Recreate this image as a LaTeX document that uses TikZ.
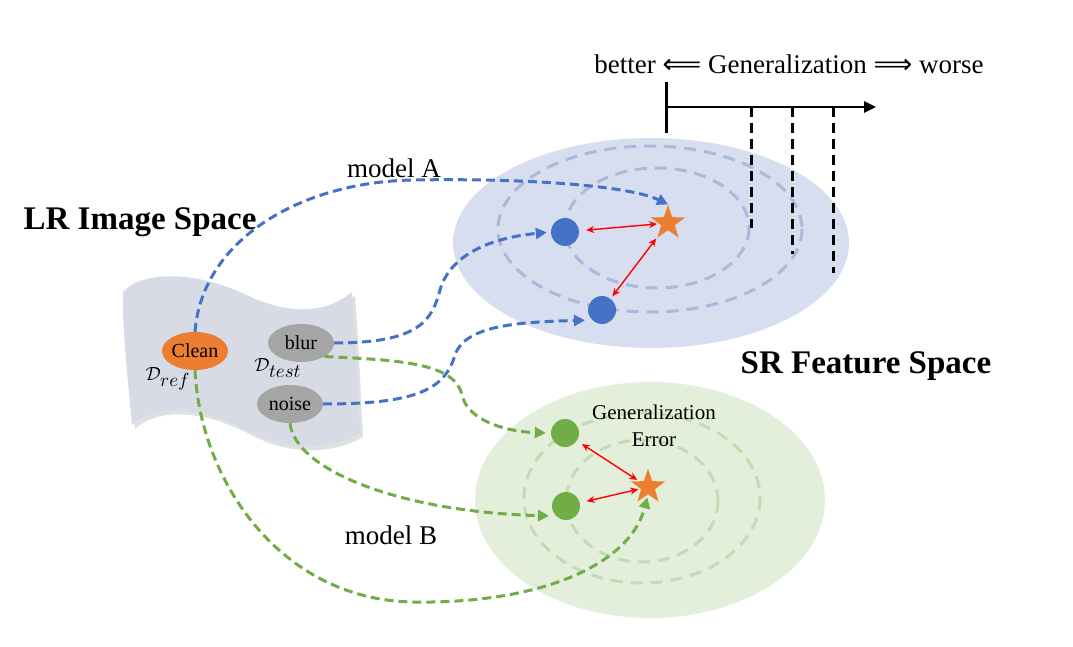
\documentclass[tikz,border=0pt]{standalone}
\usepackage{fontspec}
\setmainfont{Liberation Serif}
\newfontfamily\arrowfont{DejaVu Sans}
\usetikzlibrary{shapes.geometric,arrows.meta}
\definecolor{cblue}{HTML}{4472C4}
\definecolor{cgreen}{HTML}{70AD47}
\definecolor{corange}{HTML}{ED7D31}
\definecolor{cgray}{HTML}{A5A5A5}
\definecolor{bluebg}{HTML}{D6DEF0}
\definecolor{greenbg}{HTML}{E3EFDA}
\definecolor{bluering}{HTML}{AAB9DC}
\definecolor{greenring}{HTML}{C4DBB3}
\definecolor{sheet}{HTML}{D7DBE5}
\newcommand{\bigmath}[2]{\scalebox{#1}{\normalsize$#2$}}
\begin{document}
\begin{tikzpicture}[x=1pt,y=-1pt,
  blueconn/.style={draw=cblue, line width=3pt, dash pattern=on 9pt off 5pt, -{Triangle[length=11pt,width=11pt]}},
  greenconn/.style={draw=cgreen, line width=3pt, dash pattern=on 9pt off 5pt, -{Triangle[length=11pt,width=11pt]}},
  errarrow/.style={draw=red, line width=1.4pt, {Stealth[length=8pt,width=7pt]}-{Stealth[length=8pt,width=7pt]}},
  dotnode/.style={circle, minimum size=28pt, inner sep=0pt},
  starnode/.style={star, star points=5, star point ratio=2.5, fill=corange, minimum size=36pt, inner sep=0pt},
  lrnode/.style={ellipse, minimum width=66pt, minimum height=38pt, inner sep=0pt, font=\fontsize{20}{24}\selectfont},
  ring/.style={line width=3pt, dash pattern=on 12pt off 8pt},
  axisdash/.style={line width=3pt, dash pattern=on 10pt off 6pt},
  bigtitle/.style={font=\fontsize{33}{38}\selectfont\bfseries},
  lbl/.style={font=\fontsize{27}{32}\selectfont}
]
\useasboundingbox (0,0) rectangle (1073,647);

% feature space backgrounds
\fill[bluebg] (651,243) ellipse [x radius=198, y radius=105];
\fill[greenbg] (650,500) ellipse [x radius=175, y radius=118];
\draw[ring, bluering] (657,228) ellipse [x radius=92, y radius=60];
\draw[ring, bluering] (650,229) ellipse [x radius=152, y radius=83];
\draw[ring, greenring] (642,501) ellipse [x radius=76, y radius=61];
\draw[ring, greenring] (642,498) ellipse [x radius=118, y radius=85];

% axis
\coordinate (ax0) at (666,107);
\coordinate (ax1) at (876,107);
\coordinate (tickTop) at (666,82);
\coordinate (tickBot) at (666,133);
\draw[line width=3pt] (tickTop) -- (tickBot);
\draw[line width=2.5pt, -{Triangle[length=12pt,width=11pt]}] (ax0) -- (ax1);
\coordinate (d1a) at (751,107); \coordinate (d1b) at (751,228);
\coordinate (d2a) at (792,107); \coordinate (d2b) at (792,254);
\coordinate (d3a) at (833,107); \coordinate (d3b) at (833,273);
\draw[axisdash] (d1a) -- (d1b);
\draw[axisdash] (d2a) -- (d2b);
\draw[axisdash] (d3a) -- (d3b);
\node[lbl] (gen) at (789,64) {better {\arrowfont ⟸} Generalization {\arrowfont ⟹} worse};

% LR sheet
\fill[black, opacity=0.12] ([shift={(3,4)}]123,292) .. controls ([shift={(3,4)}]140,272) and ([shift={(3,4)}]190,270) .. ([shift={(3,4)}]240,292)
  .. controls ([shift={(3,4)}]280,312) and ([shift={(3,4)}]320,318) .. ([shift={(3,4)}]352,292)
  .. controls ([shift={(3,4)}]356,340) and ([shift={(3,4)}]358,400) .. ([shift={(3,4)}]360,433)
  .. controls ([shift={(3,4)}]330,450) and ([shift={(3,4)}]290,452) .. ([shift={(3,4)}]250,432)
  .. controls ([shift={(3,4)}]210,410) and ([shift={(3,4)}]160,400) .. ([shift={(3,4)}]132,425)
  .. controls ([shift={(3,4)}]128,380) and ([shift={(3,4)}]122,330) .. cycle;
\fill[sheet] (123,292) .. controls (140,272) and (190,270) .. (240,292)
  .. controls (280,312) and (320,318) .. (352,292)
  .. controls (356,340) and (358,400) .. (360,433)
  .. controls (330,450) and (290,452) .. (250,432)
  .. controls (210,410) and (160,400) .. (132,425)
  .. controls (128,380) and (122,330) .. cycle;

% LR nodes
\node[lrnode, fill=corange] (clean) at (195,351) {Clean};
\node[lrnode, fill=cgray] (blur) at (301,343) {blur};
\node[lrnode, fill=cgray] (noise) at (290,404) {noise};
\node (dref) at (168,379) {\bigmath{1.9}{\mathcal{D}_{\textstyle ref}}};
\node (dtest) at (278,368) {\bigmath{1.9}{\mathcal{D}_{\textstyle test}}};

% titles
\node[bigtitle] (lrtitle) at (140,222) {LR Image Space};
\node[bigtitle] (srtitle) at (866,366) {SR Feature Space};
\node[lbl] (modelA) at (394,168) {model A};
\node[lbl] (modelB) at (391,535) {model B};
\node[font=\fontsize{21}{27}\selectfont, align=center] (generr) at (654,426) {Generalization\\Error};

% feature points
\node[dotnode, fill=cblue] (dotA1) at (565,232) {};
\node[dotnode, fill=cblue] (dotA2) at (602,310) {};
\node[starnode] (starA) at (668,223) {};
\node[dotnode, fill=cgreen] (dotB1) at (565,433) {};
\node[dotnode, fill=cgreen] (dotB2) at (566,506) {};
\node[starnode] (starB) at (648,487) {};

% error arrows
\draw[errarrow, shorten <=7pt, shorten >=2pt] (dotA1) -- (starA);
\draw[errarrow, shorten <=3pt, shorten >=2pt] (dotA2) -- (starA);
\draw[errarrow, shorten <=6pt, shorten >=2pt] (dotB1) -- (starB);
\draw[errarrow, shorten <=7pt, shorten >=2pt] (dotB2) -- (starB);

% blue connectors
\draw[blueconn] (clean.north) .. controls (202,240) and (300,182) .. (413,180)
  .. controls (530,178) and (630,186) .. (starA.north);
\draw[blueconn, shorten >=4pt] (blur.east) .. controls (420,343) and (432,320) .. (440,290)
  .. controls (450,255) and (490,238) .. (dotA1.west);
\draw[blueconn, shorten >=7pt] (noise.east) .. controls (420,404) and (445,388) .. (455,355)
  .. controls (465,325) and (520,322) .. (dotA2.south west);

% green connectors
\draw[greenconn, shorten >=5pt] (blur.south east) .. controls (400,360) and (455,363) .. (462,395)
  .. controls (468,422) and (510,432) .. (dotB1.west);
\draw[greenconn, shorten >=7pt] (noise.south) .. controls (295,470) and (400,512) .. (dotB2.south west);
\draw[greenconn, shorten >=3pt] (clean.south) .. controls (200,480) and (280,600) .. (413,602)
  .. controls (540,604) and (630,565) .. (starB.south);
\end{tikzpicture}
\end{document}
